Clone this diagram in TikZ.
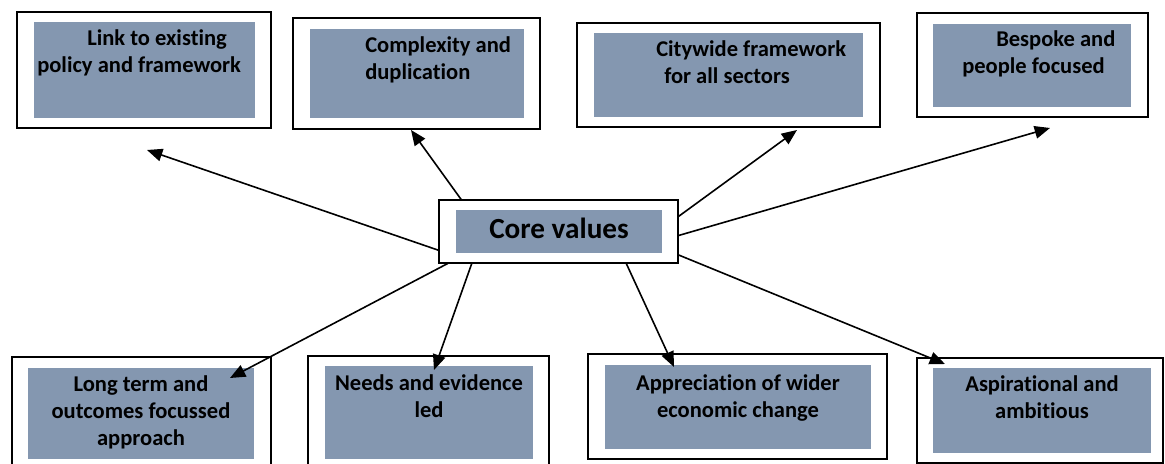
\documentclass[tikz,border=0pt]{standalone}
\usepackage{fontspec}
\setmainfont{Carlito}[Ligatures={NoCommon}]
\usetikzlibrary{arrows.meta,fit}
\definecolor{boxfill}{HTML}{8497B0}
\begin{document}
\begin{tikzpicture}[x=0.75pt,y=-0.75pt,
  frame/.style={draw=black, line width=1.5pt, fill=white, inner sep=0pt, outer sep=0pt},
  panel/.style={fill=boxfill},
  label/.style={inner sep=0pt, font=\fontsize{16.9}{20.25}\selectfont\bfseries},
  leftlabel/.style={label, align=left, anchor=base west},
  midlabel/.style={label, align=center, anchor=base},
  conn/.style={draw=black, line width=1.2pt, -{Triangle[length=11.5pt,width=9.5pt]}}]
\useasboundingbox (0,0) rectangle (1165,464);
\clip (0,0) rectangle (1165,464);

% top row (label anchors sit on the baseline of the last line)
\node[frame, fit={(17,12) (271,128)}] (linkbox) {};
\fill[panel] (34,22) rectangle (255,118);
\node[leftlabel] (linktxt) at (37,72) {\hspace*{37.5pt}Link to existing\\policy and framework};

\node[frame, fit={(293,18) (540,129)}] (complexbox) {};
\fill[panel] (310,29) rectangle (524,118);
\node[leftlabel] (complextxt) at (365,79) {Complexity and\\duplication};

\node[frame, fit={(577,23) (880,127)}] (citybox) {};
\fill[panel] (594,33) rectangle (863,117);
\node[leftlabel] (citytxt) at (656,83) {Citywide framework\\\hspace*{6pt}for all sectors};

\node[frame, fit={(917,13) (1148,117)}] (bespokebox) {};
\fill[panel] (933,24) rectangle (1131,107);
\node[leftlabel] (bespoketxt) at (962,73) {\hspace*{25.5pt}Bespoke and\\people focused};

% bottom row
\node[frame, fit={(12,357) (271,480)}] (longbox) {};
\fill[panel] (28,368) rectangle (254,459);
\node[midlabel] (longtxt) at (141,445) {Long term and\\outcomes focussed\\approach};

\node[frame, fit={(308,356) (549,480)}] (needsbox) {};
\fill[panel] (325,366) rectangle (533,459);
\node[midlabel] (needstxt) at (429,417) {Needs and evidence\\led};

\node[frame, fit={(588,354) (887,459)}] (apprbox) {};
\fill[panel] (605,365) rectangle (871,449);
\node[midlabel] (apprtxt) at (738,417) {Appreciation of wider\\economic change};

\node[frame, fit={(917,358) (1163,463)}] (aspbox) {};
\fill[panel] (933,368) rectangle (1151,453);
\node[midlabel] (asptxt) at (1042,418) {Aspirational and\\ambitious};

% centre
\node[frame, line width=1.7pt, fit={(439,200) (678,263)}] (core) {};
\fill[panel] (456,210) rectangle (662,253);
\node[inner sep=0pt, anchor=base, font=\fontsize{21.9}{26}\selectfont\bfseries] (coretxt) at (559,238) {Core values};

% arrow heads
\coordinate (h1) at (147,150);
\coordinate (h2) at (411,130);
\coordinate (h3) at (797,130);
\coordinate (h4) at (1050,128);
\coordinate (h5) at (230,378);
\coordinate (h6) at (434,370);
\coordinate (h7) at (674,367);
\coordinate (h8) at (945,364);

\draw[conn] (core.189.3) -- (h1);
\draw[conn] (core.162.9) -- (h2);
\draw[conn] (core.7.3) -- (h3);
\draw[conn] (core.358.8) -- (h4);
\draw[conn] (core.196.9) -- (h5);
\draw[conn] (core.200) -- (h6);
\draw[conn] (core.335) -- (h7);
\draw[conn] (core.349.9) -- (h8);
\end{tikzpicture}
\end{document}
